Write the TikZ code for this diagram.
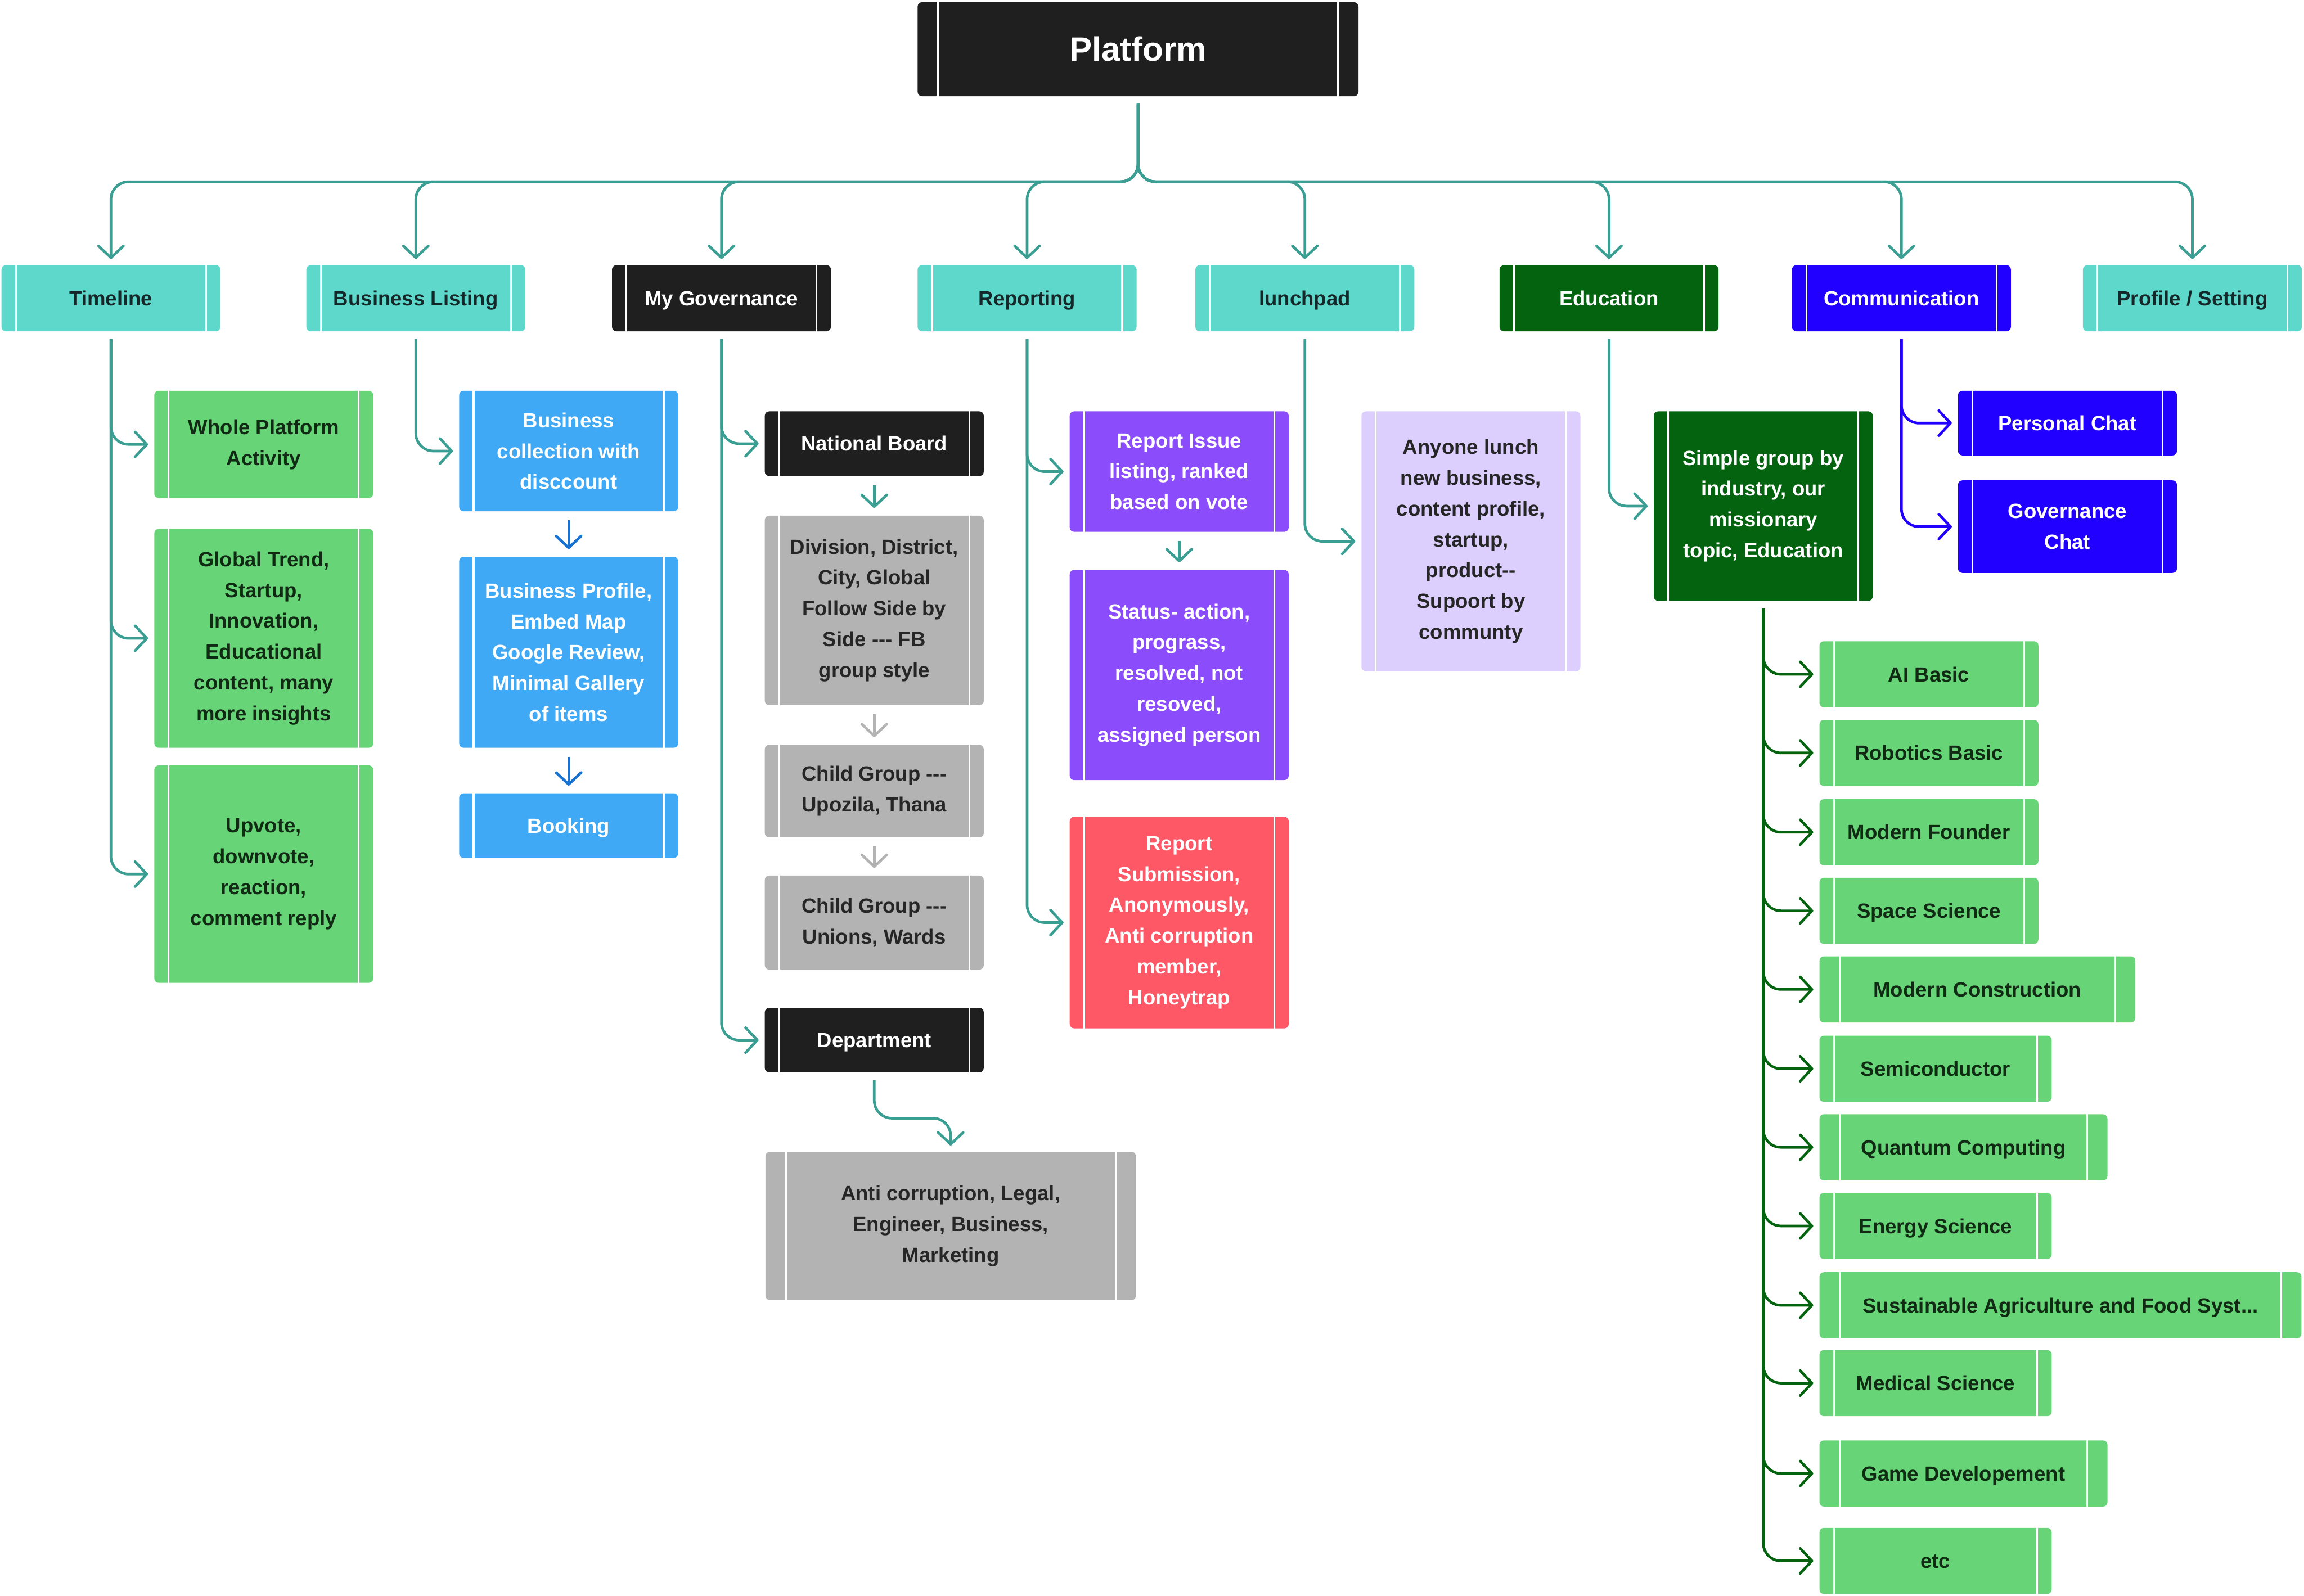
\documentclass[tikz,border=0pt]{standalone}
\usepackage{fontspec}
\setmainfont{Liberation Sans}
\usetikzlibrary{arrows.meta,calc}
\definecolor{cteal}{HTML}{5DD8CA}
\definecolor{cline}{HTML}{3A9E92}
\definecolor{cgreen}{HTML}{67D577}
\definecolor{cbiz}{HTML}{3FA9F5}
\definecolor{cbizline}{HTML}{1872D2}
\definecolor{cpurple}{HTML}{8B4DFC}
\definecolor{cred}{HTML}{FE5766}
\definecolor{clav}{HTML}{DCCFFD}
\definecolor{cgray}{HTML}{B3B3B3}
\definecolor{cdkgreen}{HTML}{04630F}
\definecolor{cblue}{HTML}{2200FF}
\definecolor{cblack}{HTML}{1F1F1F}
\definecolor{tdark}{HTML}{14282A}
\definecolor{tgreen}{HTML}{102A14}
\definecolor{tgray}{HTML}{262626}
\newcommand\bars[2]{%
  \draw[white,line width=1.2pt] ($(#1.north west)+(#2,0)$) -- ($(#1.south west)+(#2,0)$);
  \draw[white,line width=1.2pt] ($(#1.north east)+(-#2,0)$) -- ($(#1.south east)+(-#2,0)$);}
\newcommand\dashes{-{}-{}-}
\begin{document}
\begin{tikzpicture}[x=1pt,y=-1pt,
  pbox/.style={rounded corners=3pt,inner sep=0pt,align=center,
    font=\fontsize{14}{21}\selectfont\bfseries,minimum width=149pt,minimum height=45pt},
  tealbox/.style={pbox,fill=cteal,text=tdark},
  greenbox/.style={pbox,fill=cgreen,text=tgreen},
  bizbox/.style={pbox,fill=cbiz,text=white},
  blackbox/.style={pbox,fill=cblack,text=white},
  graybox/.style={pbox,fill=cgray,text=tgray},
  purplebox/.style={pbox,fill=cpurple,text=white},
  redbox/.style={pbox,fill=cred,text=white},
  lavbox/.style={pbox,fill=clav,text=tgray},
  dgbox/.style={pbox,fill=cdkgreen,text=white},
  bluebox/.style={pbox,fill=cblue,text=white},
  one/.style={text height=10pt,text depth=0pt},
  conn/.style={draw=cline,line width=1.8pt,rounded corners=12pt,
    -{Straight Barb[length=8pt,width=17pt,round]},shorten <=5pt,shorten >=4pt},
  shortarr/.style={conn,shorten <=6pt,shorten >=5pt},
]
\useasboundingbox (0,0) rectangle (1568,1086.4);

% root
\node[blackbox,minimum width=300pt,minimum height=64pt,font=\fontsize{23}{28}\selectfont\bfseries] (plat) at (774.5,33.5) {Platform};
\bars{plat}{14}

% row 2
\node[tealbox,one] (tl) at (75.5,203) {Timeline};
\node[tealbox,one] (bl) at (283,203) {Business Listing};
\node[blackbox,one] (mg) at (491,203) {My Governance};
\node[tealbox,one] (rep) at (699,203) {Reporting};
\node[tealbox,one] (lun) at (888,203) {lunchpad};
\node[dgbox,one] (edu) at (1095,203) {Education};
\node[bluebox,one] (com) at (1294,203) {Communication};
\node[tealbox,one] (prof) at (1492,203) {Profile / Setting};
\foreach \n in {tl,bl,mg,rep,lun,edu,com,prof} {\bars{\n}{10}}

\foreach \n in {tl,bl,mg,rep,lun,edu,com,prof}
  \draw[conn] (plat.south) -- ++(0,58) -| (\n.north);

% timeline
\node[greenbox,minimum height=73pt] (wpa) at (179.5,302.5) {Whole Platform\\Activity};
\node[greenbox,minimum height=149pt] (gt) at (179.5,434.5) {Global Trend,\\Startup,\\Innovation,\\Educational\\content, many\\more insights};
\node[greenbox,minimum height=148pt] (up) at (179.5,595) {Upvote,\\downvote,\\reaction,\\comment reply};
\foreach \n in {wpa,gt,up} {\bars{\n}{10} \draw[conn] (tl.south) |- (\n.west);}

% business listing
\node[bizbox,minimum height=82pt] (bc) at (387,307) {Business\\collection with\\disccount};
\node[bizbox,minimum height=130pt] (bp) at (387,444) {Business Profile,\\Embed Map\\Google Review,\\Minimal Gallery\\of items};
\node[bizbox,one,minimum height=44pt] (bk) at (387,562) {Booking};
\foreach \n in {bc,bp,bk} {\bars{\n}{10}}
\draw[conn] (bl.south) |- (bc.west);
\draw[shortarr,draw=cbizline] (bc.south) -- (bp.north);
\draw[shortarr,draw=cbizline] (bp.south) -- (bk.north);

% governance
\node[blackbox,one,minimum height=44pt] (nb) at (595,302) {National Board};
\node[graybox,minimum height=129pt] (div) at (595,415.5) {Division, District,\\City, Global\\Follow Side by\\Side \dashes{} FB\\group style};
\node[graybox,minimum height=63pt] (cg1) at (595,538.5) {Child Group \dashes\\Upozila, Thana};
\node[graybox,minimum height=64pt] (cg2) at (595,628) {Child Group \dashes\\Unions, Wards};
\node[blackbox,one,minimum height=44pt] (dep) at (595,708) {Department};
\node[graybox,minimum width=252pt,minimum height=101pt] (ac) at (647,834.5) {Anti corruption, Legal,\\Engineer, Business,\\Marketing};
\foreach \n in {nb,div,cg1,cg2,dep} {\bars{\n}{10}}
\bars{ac}{14}
\draw[conn] (mg.south) |- (nb.west);
\draw[conn] (mg.south) |- (dep.west);
\draw[shortarr] (nb.south) -- (div.north);
\draw[shortarr,draw=cgray] (div.south) -- (cg1.north);
\draw[shortarr,draw=cgray] (cg1.south) -- (cg2.north);
\draw[conn] (dep.south) -- ++(0,31) -| (ac.north);

% reporting
\node[purplebox,minimum height=82pt] (ri) at (802.5,321) {Report Issue\\listing, ranked\\based on vote};
\node[purplebox,minimum height=143pt] (st) at (802.5,459.5) {Status- action,\\prograss,\\resolved, not\\resoved,\\assigned person};
\node[redbox,minimum height=144pt] (rs) at (802.5,628) {Report\\Submission,\\Anonymously,\\Anti corruption\\member,\\Honeytrap};
\foreach \n in {ri,st,rs} {\bars{\n}{10}}
\draw[conn] (rep.south) |- (ri.west);
\draw[conn] (rep.south) |- (rs.west);
\draw[shortarr] (ri.south) -- (st.north);

% lunchpad
\node[lavbox,minimum height=177pt] (la) at (1001,368.5) {Anyone lunch\\new business,\\content profile,\\startup,\\product-{}-\\Supoort by\\communty};
\bars{la}{10}
\draw[conn] (lun.south) |- (la.west);

% education
\node[dgbox,minimum height=129pt] (sg) at (1200,344.5) {Simple group by\\industry, our\\missionary\\topic, Education};
\bars{sg}{10}
\draw[conn] (edu.south) |- (sg.west);

\node[greenbox,one,anchor=west] (ai) at (1238,459) {AI Basic};
\node[greenbox,one,anchor=west] (rob) at (1238,512.5) {Robotics Basic};
\node[greenbox,one,anchor=west] (mf) at (1238,566.5) {Modern Founder};
\node[greenbox,one,anchor=west] (ss) at (1238,620) {Space Science};
\node[greenbox,one,anchor=west,minimum width=215pt] (mc) at (1238,673.5) {Modern Construction};
\node[greenbox,one,anchor=west,minimum width=158pt] (semi) at (1238,727.5) {Semiconductor};
\node[greenbox,one,anchor=west,minimum width=196pt] (qc) at (1238,781) {Quantum Computing};
\node[greenbox,one,anchor=west,minimum width=158pt] (es) at (1238,834.5) {Energy Science};
\node[greenbox,one,anchor=west,minimum width=328pt] (sa) at (1238,888.5) {Sustainable Agriculture and Food Syst...};
\node[greenbox,one,anchor=west,minimum width=158pt] (ms) at (1238,941.5) {Medical Science};
\node[greenbox,one,anchor=west,minimum width=196pt] (gd) at (1238,1003) {Game Developement};
\node[greenbox,one,anchor=west,minimum width=158pt] (etc) at (1238,1062.5) {etc};
\foreach \n in {ai,rob,mf,ss,semi,es,ms,etc} {\bars{\n}{10}}
\foreach \n in {mc,qc,sa,gd} {\bars{\n}{14}}
\foreach \n in {ai,rob,mf,ss,mc,semi,qc,es,sa,ms,gd,etc}
  \draw[conn,draw=cdkgreen] (sg.south) |- (\n.west);

% communication
\node[bluebox,one,minimum height=44pt] (pc) at (1407,288) {Personal Chat};
\node[bluebox,minimum height=63pt] (gc) at (1407,358.5) {Governance\\Chat};
\foreach \n in {pc,gc} {\bars{\n}{10}}
\draw[conn,draw=cblue] (com.south) |- (pc.west);
\draw[conn,draw=cblue] (com.south) |- (gc.west);
\end{tikzpicture}
\end{document}
